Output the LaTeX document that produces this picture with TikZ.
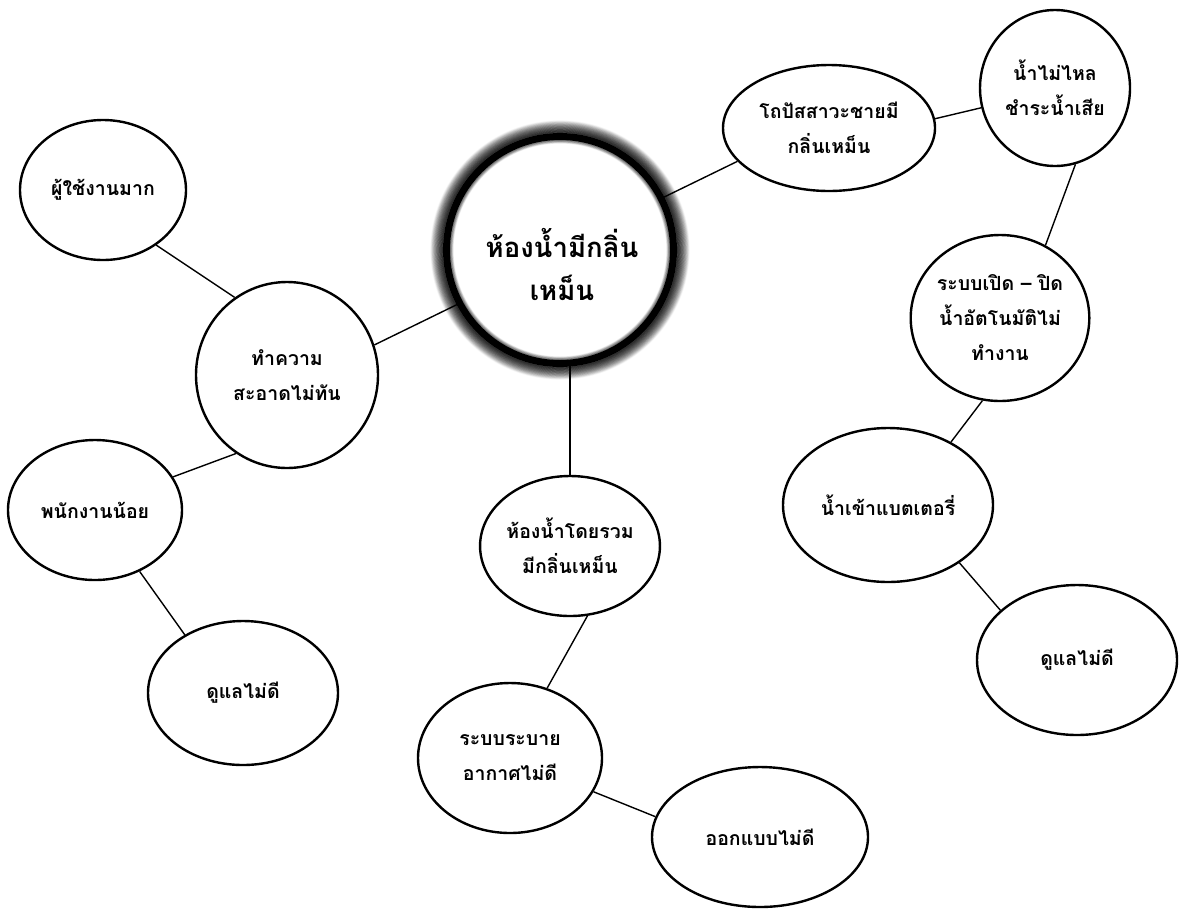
\documentclass[tikz,border=0pt]{standalone}
\usepackage{fontspec}
\newfontfamily\thaifont[Script=Thai]{Loma}
\usetikzlibrary{shapes.geometric}
\tikzset{
  bubble/.style={draw=black, line width=2.4pt, ellipse, fill=white, inner sep=0pt, align=center,
    font=\thaifont\bfseries\fontsize{19.5}{35}\selectfont},
  link/.style={draw=black, line width=1.4pt},
}
\begin{document}
\begin{tikzpicture}[x=1pt,y=-1pt]
\useasboundingbox (0,0) rectangle (1198,914);
% centre
\node[circle, minimum size=222pt, inner sep=0pt, fill=white] (c) at (560,250) {};
\node[align=center, inner sep=0pt,
  font=\thaifont\bfseries\fontsize{27.5}{43}\selectfont] (ct) at (562,264) {ห้องน้ำมีกลิ่น\\เหม็น};
% right branch
\node[bubble, minimum width=212pt, minimum height=126pt] (t) at (829,128) {โถปัสสาวะชายมี\\กลิ่นเหม็น};
\node[bubble, minimum width=150pt, minimum height=156pt] (n) at (1055,88) {น้ำไม่ไหล\\ชำระน้ำเสีย};
\node[bubble, minimum width=176pt, minimum height=166pt] (s) at (1000,318) {ระบบเปิด – ปิด\\น้ำอัตโนมัติไม่\\ทำงาน};
\node[bubble, minimum width=210pt, minimum height=154pt] (b) at (888,505) {น้ำเข้าแบตเตอรี่};
\node[bubble, minimum width=200pt, minimum height=150pt] (d2) at (1077,660) {ดูแลไม่ดี};
% left branch
\node[bubble, minimum width=166pt, minimum height=140pt] (u) at (103,190) {ผู้ใช้งานมาก};
\node[bubble, minimum width=182pt, minimum height=186pt] (k) at (287,375) {ทำความ\\สะอาดไม่ทัน};
\node[bubble, minimum width=174pt, minimum height=140pt] (p) at (95,510) {พนักงานน้อย};
\node[bubble, minimum width=190pt, minimum height=144pt] (d1) at (243,693) {ดูแลไม่ดี};
% bottom branch
\node[bubble, minimum width=160pt, minimum height=140pt] (r) at (570,546) {ห้องน้ำโดยรวม\\มีกลิ่นเหม็น};
\node[bubble, minimum width=184pt, minimum height=150pt] (v) at (510,758) {ระบบระบาย\\อากาศไม่ดี};
\node[bubble, minimum width=216pt, minimum height=140pt] (o) at (760,837) {ออกแบบไม่ดี};
% connectors
\draw[link] (c.27) -- (t.200);
\draw[link] (t.5) -- (n.195);
\draw[link] (n.285) -- (s.58);
\draw[link] (s.258) -- (b.45);
\draw[link] (b.321) -- (d2.147);
\draw[link] (c.208) -- (k.19);
\draw[link] (u.314) -- (k.124);
\draw[link] (k.237) -- (p.23);
\draw[link] (p.306) -- (d1.135);
\draw[link] (r.north) -- (r.north |- c.south);
\draw[link] (r.284) -- (v.62);
\draw[link] (v.338) -- (o.169);
% blurred thick ring of the centre circle
\foreach \i in {0,...,20}{
  \pgfmathsetmacro\op{0.5*(1-\i/21)}
  \draw[black, line width=1.6pt, opacity=\op] (c.center) circle ({117+\i*0.6});
}
\foreach \i in {0,...,5}{
  \pgfmathsetmacro\op{0.35*(1-\i/6)}
  \draw[black, line width=1.2pt, opacity=\op] (c.center) circle ({110-\i*0.6});
}
\draw[black, line width=7pt] (c.center) circle (113.5);
\end{tikzpicture}
\end{document}
